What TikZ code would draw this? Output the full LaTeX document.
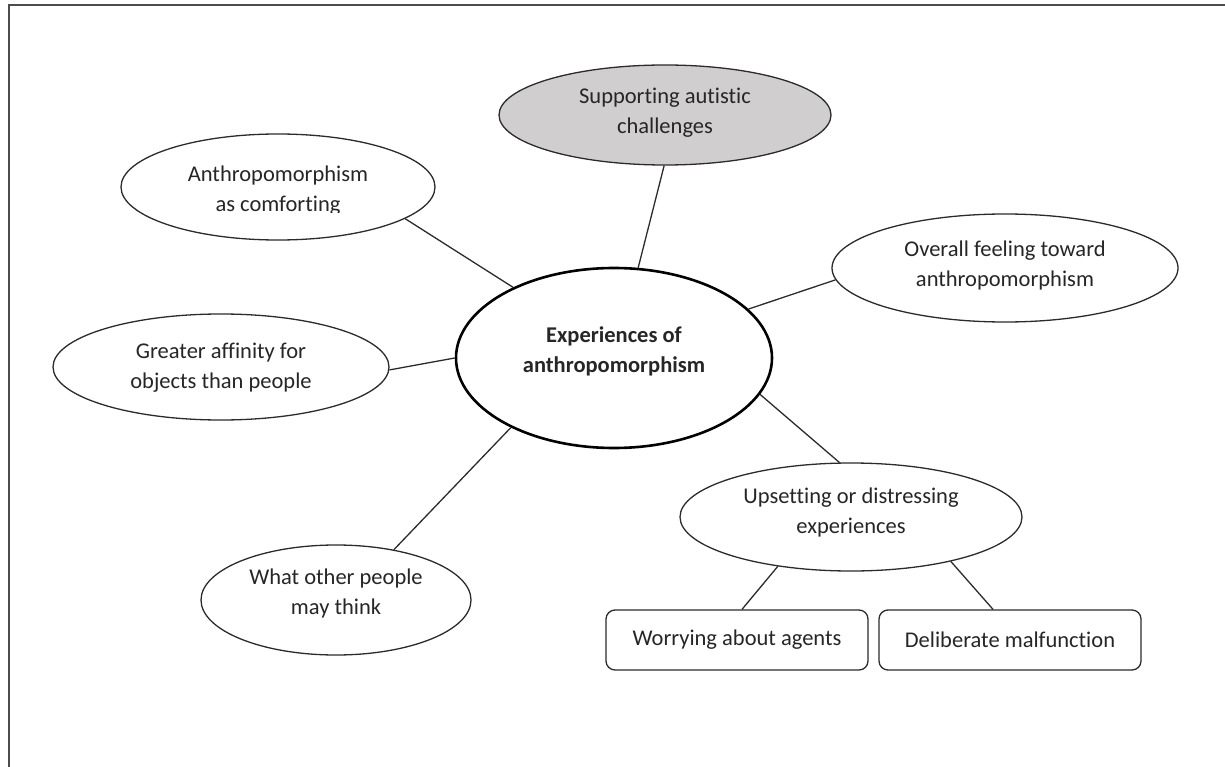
\documentclass[tikz,border=0pt]{standalone}
\usepackage{fontspec}
\setmainfont[Ligatures=NoCommon]{Carlito}
\usetikzlibrary{shapes.geometric}
\definecolor{lineclr}{HTML}{2B2B2B}
\definecolor{grayfill}{HTML}{D0CECE}
\tikzset{
  bubble/.style={draw=lineclr, line width=1.3pt, ellipse, inner sep=0pt, fill=white},
  leaf/.style={draw=lineclr, line width=1.3pt, rounded corners=9pt, minimum width=262pt, minimum height=60pt, inner sep=0pt, fill=white},
  link/.style={draw=lineclr, line width=1.3pt},
  lbl/.style={font=\fontsize{22.5}{30}\selectfont, align=center, text=black!85}
}
\begin{document}
\begin{tikzpicture}[x=1pt,y=-1pt]
\useasboundingbox (0,0) rectangle (1225,767);
\draw[line width=2pt, draw=black!70] (9,767) -- (9,5) -- (1225,5);

\node[bubble, line width=2.6pt, draw=black, minimum width=316pt, minimum height=180pt] (center) at (614,358) {};
\node[lbl, font=\fontsize{22.5}{30}\selectfont\bfseries] (centert) at (614,351) {Experiences of\\anthropomorphism};

\node[bubble, fill=grayfill, minimum width=332pt, minimum height=100pt] (support) at (665,115) {};
\node[lbl] (supportt) at (665,113) {Supporting autistic\\challenges};

\node[bubble, minimum width=314pt, minimum height=106pt] (comfort) at (278,187) {};
\begin{scope}
\clip (110,130) rectangle (450,213);
\node[lbl] (comfortt) at (278,191) {Anthropomorphism\\as comforting};
\end{scope}

\node[bubble, minimum width=346pt, minimum height=108pt] (overall) at (1005,268) {};
\node[lbl] (overallt) at (1005,266) {Overall feeling toward\\anthropomorphism};

\node[bubble, minimum width=336pt, minimum height=106pt] (affinity) at (221,367) {};
\node[lbl] (affinityt) at (221,368) {Greater affinity for\\objects than people};

\node[bubble, minimum width=270pt, minimum height=110pt] (others) at (336,600) {};
\node[lbl] (otherst) at (336,593) {What other people\\may think};

\node[bubble, minimum width=342pt, minimum height=108pt] (upset) at (851,517) {};
\node[lbl] (upsett) at (851,512) {Upsetting or distressing\\experiences};

\node[leaf, lbl] (worry) at (737,640) {Worrying about agents};
\node[leaf, lbl] (malf) at (1010,640) {Deliberate malfunction};

\draw[link] (support.-91) -- (center.75.8);
\draw[link] (comfort.-14.8) -- (center.145.2);
\draw[link] (overall.-176.6) -- (center.20.6);
\draw[link] (affinity.-1.7) -- (center.180);
\draw[link] (others.41) -- (center.214.7);
\draw[link] (upset.102.4) -- (center.-14.2);
\draw[link] (upset.214.2) -- ([xshift=5pt]worry.north);
\draw[link] (upset.-24.7) -- ([xshift=-17pt]malf.north);
\end{tikzpicture}
\end{document}
